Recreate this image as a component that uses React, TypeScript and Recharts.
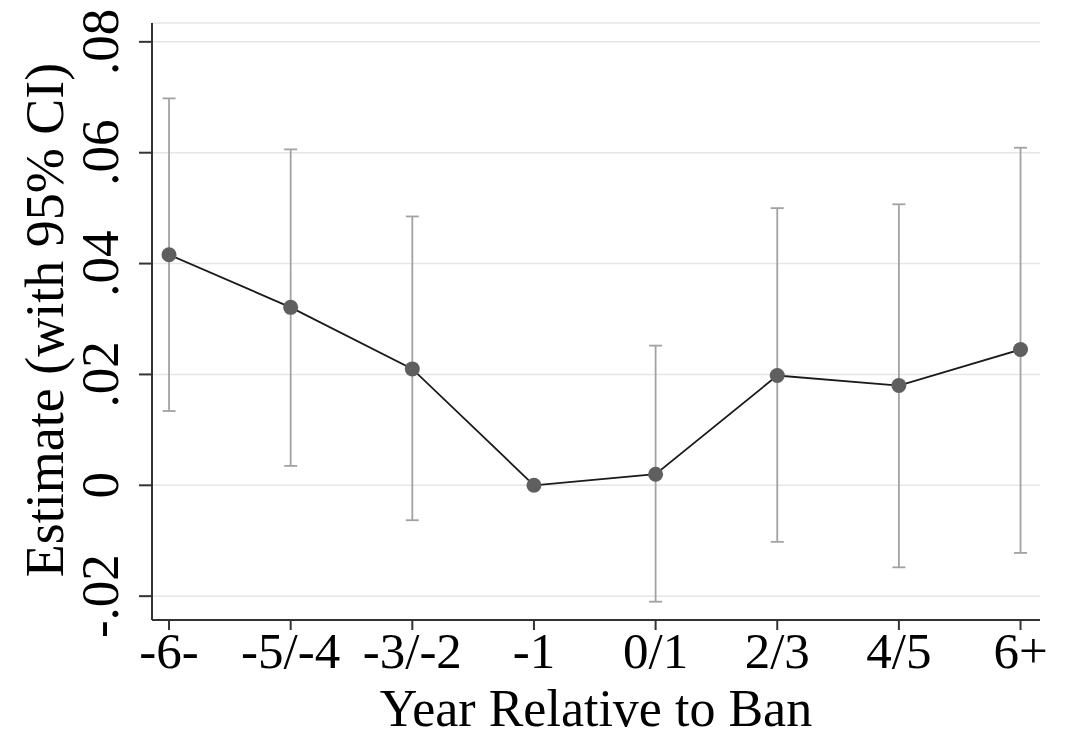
import React from 'react';
import { ComposedChart, Line, ErrorBar, XAxis, YAxis, CartesianGrid, Label } from 'recharts';

const periods = ['-6-', '-5/-4', '-3/-2', '-1', '0/1', '2/3', '4/5', '6+'];
const estimates = [0.0416, 0.0321, 0.021, 0, 0.002, 0.0198, 0.018, 0.0245];
const ciLow = [0.0134, 0.0035, -0.0063, null, -0.021, -0.0102, -0.0148, -0.0122];
const ciHigh = [0.0698, 0.0606, 0.0485, null, 0.0252, 0.05, 0.0507, 0.0609];
const yTicks = [-0.02, 0, 0.02, 0.04, 0.06, 0.08];

const data = periods.map((p, i) => ({
  idx: i,
  est: estimates[i],
  err: ciLow[i] == null ? undefined : [estimates[i] - ciLow[i], ciHigh[i] - estimates[i]],
}));

const FONT = '"Liberation Serif", "Times New Roman", serif';

const fmtY = (v: number) => {
  if (v === 0) return '0';
  return v.toFixed(2).replace('0.', '.');
};

const YTick = (props: any) => {
  const { y, payload } = props;
  return (
    <text x={118} y={y} transform={`rotate(-90, 118, ${y})`} textAnchor="middle"
      fontFamily={FONT} fontSize={53} fill="#000">
      {fmtY(payload.value)}
    </text>
  );
};

const XTick = (props: any) => {
  const { x, payload } = props;
  return (
    <text x={x} y={668} textAnchor="middle" fontFamily={FONT} fontSize={51} fill="#000">
      {periods[payload.value]}
    </text>
  );
};

export default function App() {
  return (
    <div style={{ position: 'absolute', left: 0, top: 0, background: '#fff' }}>
      <ComposedChart width={1066} height={737} data={data}
        margin={{ top: 23, right: 26, bottom: 0, left: 0 }}>
        <CartesianGrid vertical={false} stroke="#e6e6e6" strokeWidth={1.5} />
        <XAxis dataKey="idx" type="number" domain={[-0.14, 7.16]} ticks={[0, 1, 2, 3, 4, 5, 6, 7]}
          height={117} tickSize={10} tick={<XTick />} axisLine={{ stroke: '#333', strokeWidth: 2 }}
          tickLine={{ stroke: '#333', strokeWidth: 2 }} interval={0} allowDataOverflow>
          <Label content={() => (
            <text x={596} y={725.5} textAnchor="middle" fontFamily={FONT} fontSize={52} fill="#000">
              Year Relative to Ban
            </text>
          )} />
        </XAxis>
        <YAxis type="number" domain={[-0.0243, 0.0834]} ticks={yTicks} width={152} tickSize={13}
          tick={<YTick />} axisLine={{ stroke: '#333', strokeWidth: 2 }}
          tickLine={{ stroke: '#333', strokeWidth: 2 }} interval={0} allowDataOverflow>
          <Label content={() => (
            <text x={63} y={320} transform="rotate(-90, 63, 320)" textAnchor="middle"
              fontFamily={FONT} fontSize={54} fill="#000">
              Estimate (with 95% CI)
            </text>
          )} />
        </YAxis>
        <Line dataKey="est" stroke="#1a1a1a" strokeWidth={1.8} isAnimationActive={false}
          dot={{ r: 7.5, fill: '#5f5f5f', stroke: 'none' }} activeDot={false}>
          <ErrorBar dataKey="err" direction="y" width={6.5} stroke="#a2a2a2" strokeWidth={1.8} />
        </Line>
      </ComposedChart>
    </div>
  );
}
